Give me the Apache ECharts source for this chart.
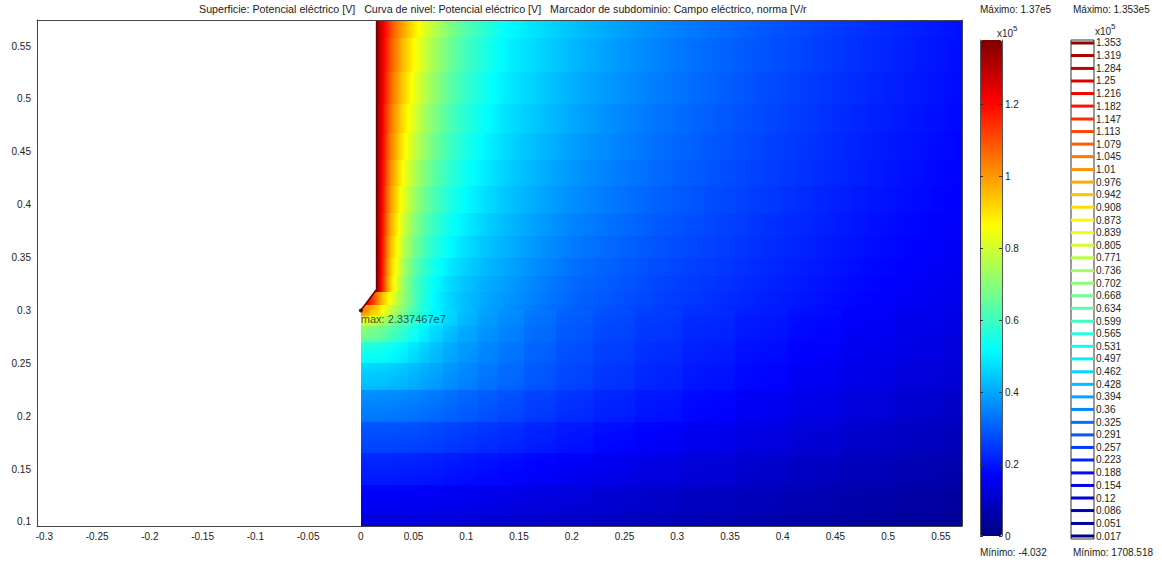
<!DOCTYPE html>
<html>
<head>
<meta charset="utf-8">
<script src="https://cdn.jsdelivr.net/npm/echarts@6/dist/echarts.min.js"></script>
<style>
  html, body { margin: 0; padding: 0; background: #fff; }
  #chart { width: 1162px; height: 565px; }
</style>
</head>
<body>
<div id="chart"></div>
<script>
// Surface: electric potential (x1e5 V), values at grid nodes

const xNodes = [0, 0.015, 0.02, 0.025, 0.03, 0.035, 0.04, 0.05, 0.06, 0.07, 0.085, 0.1,
  0.12, 0.14, 0.17, 0.2, 0.24, 0.28, 0.33, 0.38, 0.43, 0.48, 0.53, 0.57];
const yNodes = [0.095, 0.12, 0.15, 0.18, 0.21, 0.24, 0.26, 0.28, 0.29, 0.3,
  0.31, 0.325, 0.34, 0.36, 0.38, 0.405, 0.43, 0.455, 0.48, 0.51, 0.54, 0.575];

// one row per y node (bottom to top), one value per x node (left to right)
const potential = [
  [0.125, 0.125, 0.125, 0.125, 0.124, 0.124, 0.124, 0.123, 0.122, 0.12, 0.118, 0.115, 0.111, 0.107, 0.101, 0.095, 0.087, 0.079, 0.07, 0.061, 0.053, 0.045, 0.038, 0.032],
  [0.16, 0.16, 0.16, 0.16, 0.159, 0.159, 0.159, 0.158, 0.156, 0.154, 0.151, 0.147, 0.142, 0.137, 0.129, 0.121, 0.111, 0.101, 0.089, 0.078, 0.068, 0.058, 0.05, 0.043],
  [0.215, 0.215, 0.215, 0.214, 0.214, 0.213, 0.213, 0.211, 0.209, 0.206, 0.201, 0.196, 0.189, 0.182, 0.171, 0.16, 0.147, 0.134, 0.119, 0.105, 0.092, 0.08, 0.069, 0.061],
  [0.275, 0.275, 0.275, 0.274, 0.274, 0.273, 0.272, 0.27, 0.266, 0.262, 0.255, 0.248, 0.238, 0.229, 0.214, 0.2, 0.184, 0.168, 0.15, 0.133, 0.117, 0.103, 0.09, 0.08],
  [0.35, 0.35, 0.349, 0.348, 0.347, 0.346, 0.344, 0.339, 0.333, 0.326, 0.314, 0.303, 0.289, 0.276, 0.256, 0.237, 0.218, 0.199, 0.178, 0.159, 0.141, 0.125, 0.11, 0.099],
  [0.45, 0.448, 0.446, 0.444, 0.44, 0.436, 0.431, 0.42, 0.406, 0.393, 0.372, 0.355, 0.334, 0.316, 0.29, 0.267, 0.244, 0.223, 0.2, 0.179, 0.16, 0.142, 0.126, 0.115],
  [0.54, 0.535, 0.53, 0.525, 0.517, 0.508, 0.498, 0.475, 0.45, 0.428, 0.4, 0.378, 0.353, 0.333, 0.304, 0.279, 0.255, 0.234, 0.211, 0.189, 0.17, 0.151, 0.135, 0.124],
  [0.69, 0.67, 0.655, 0.64, 0.62, 0.6, 0.58, 0.54, 0.5, 0.465, 0.43, 0.4, 0.372, 0.35, 0.318, 0.29, 0.266, 0.244, 0.221, 0.199, 0.179, 0.16, 0.143, 0.132],
  [0.82, 0.78, 0.75, 0.72, 0.69, 0.66, 0.635, 0.58, 0.54, 0.495, 0.46, 0.418, 0.384, 0.36, 0.326, 0.297, 0.272, 0.25, 0.227, 0.204, 0.184, 0.165, 0.148, 0.137],
  [1.05, 0.93, 0.87, 0.82, 0.775, 0.735, 0.695, 0.615, 0.555, 0.505, 0.465, 0.428, 0.392, 0.368, 0.333, 0.304, 0.279, 0.256, 0.233, 0.21, 0.19, 0.17, 0.153, 0.142],
  [1.353, 1.05, 0.96, 0.89, 0.83, 0.775, 0.72, 0.63, 0.56, 0.505, 0.46, 0.428, 0.397, 0.376, 0.34, 0.31, 0.286, 0.262, 0.239, 0.216, 0.195, 0.175, 0.158, 0.147],
  [1.353, 1.353, 1.18, 1.015, 0.895, 0.809, 0.731, 0.626, 0.567, 0.517, 0.469, 0.438, 0.406, 0.385, 0.348, 0.317, 0.293, 0.268, 0.245, 0.221, 0.2, 0.179, 0.162, 0.151],
  [1.353, 1.353, 1.187, 1.029, 0.913, 0.829, 0.753, 0.65, 0.59, 0.539, 0.488, 0.455, 0.42, 0.397, 0.36, 0.328, 0.302, 0.277, 0.252, 0.228, 0.206, 0.184, 0.167, 0.155],
  [1.353, 1.353, 1.194, 1.045, 0.934, 0.853, 0.78, 0.679, 0.617, 0.566, 0.512, 0.475, 0.437, 0.411, 0.373, 0.341, 0.313, 0.287, 0.261, 0.235, 0.213, 0.19, 0.172, 0.16],
  [1.353, 1.353, 1.201, 1.06, 0.954, 0.875, 0.805, 0.705, 0.642, 0.59, 0.533, 0.494, 0.453, 0.423, 0.385, 0.352, 0.323, 0.296, 0.269, 0.242, 0.219, 0.196, 0.177, 0.164],
  [1.353, 1.353, 1.21, 1.077, 0.976, 0.9, 0.833, 0.735, 0.671, 0.618, 0.558, 0.515, 0.471, 0.438, 0.4, 0.366, 0.335, 0.306, 0.278, 0.251, 0.226, 0.203, 0.183, 0.169],
  [1.353, 1.353, 1.217, 1.093, 0.997, 0.923, 0.859, 0.763, 0.698, 0.643, 0.58, 0.534, 0.488, 0.451, 0.413, 0.378, 0.345, 0.316, 0.286, 0.258, 0.233, 0.209, 0.188, 0.173],
  [1.353, 1.353, 1.224, 1.107, 1.016, 0.945, 0.883, 0.789, 0.722, 0.667, 0.602, 0.552, 0.503, 0.464, 0.425, 0.39, 0.355, 0.325, 0.294, 0.265, 0.239, 0.214, 0.192, 0.177],
  [1.353, 1.353, 1.231, 1.121, 1.034, 0.965, 0.906, 0.814, 0.745, 0.689, 0.621, 0.569, 0.518, 0.475, 0.436, 0.401, 0.364, 0.333, 0.301, 0.272, 0.245, 0.219, 0.197, 0.181],
  [1.353, 1.353, 1.238, 1.137, 1.055, 0.988, 0.932, 0.841, 0.772, 0.715, 0.644, 0.589, 0.534, 0.489, 0.449, 0.413, 0.375, 0.343, 0.31, 0.279, 0.251, 0.225, 0.202, 0.185],
  [1.353, 1.353, 1.245, 1.152, 1.074, 1.01, 0.956, 0.867, 0.797, 0.739, 0.665, 0.607, 0.55, 0.501, 0.461, 0.425, 0.385, 0.352, 0.317, 0.286, 0.258, 0.231, 0.207, 0.189],
  [1.353, 1.353, 1.252, 1.167, 1.094, 1.033, 0.982, 0.895, 0.823, 0.765, 0.688, 0.627, 0.567, 0.514, 0.474, 0.437, 0.396, 0.361, 0.326, 0.294, 0.264, 0.237, 0.212, 0.193],
];

// electrode outline: the part left of it is outside the domain
const electrodeX = [0.015, 0.015, 0, -0.003, -0.003, 0];
const electrodeY = [0.6, 0.32, 0.3, 0.3, 0.6, 0.6];
const tipY = 0.3;
const maxPoint = [0, 0.3];
const maxText = 'max: 2.337467e7';

const xTicks = [-0.3, -0.25, -0.2, -0.15, -0.1, -0.05, 0, 0.05, 0.1, 0.15, 0.2, 0.25, 0.3, 0.35, 0.4, 0.45, 0.5, 0.55];
const yTicks = [0.1, 0.15, 0.2, 0.25, 0.3, 0.35, 0.4, 0.45, 0.5, 0.55];
const barTicks = [0, 0.2, 0.4, 0.6, 0.8, 1, 1.2];
const contourLevels = [1.353, 1.319, 1.284, 1.25, 1.216, 1.182, 1.147, 1.113, 1.079, 1.045, 1.01,
  0.976, 0.942, 0.908, 0.873, 0.839, 0.805, 0.771, 0.736, 0.702, 0.668, 0.634, 0.599, 0.565,
  0.531, 0.497, 0.462, 0.428, 0.394, 0.36, 0.325, 0.291, 0.257, 0.223, 0.188, 0.154, 0.12,
  0.086, 0.051, 0.017];

const jet = ['#00007f', '#0000ff', '#007fff', '#00ffff', '#7fff7f', '#ffff00', '#ff7f00', '#ff0000', '#7f0000'];
const V_MAX = 1.38;
const FONT = 'Liberation Sans';
const INK = '#222';

// jet colour of a value, same stops as the colour bar
function jetColor(v) {
  const t = Math.min(1, Math.max(0, v / V_MAX)) * (jet.length - 1);
  const k = Math.min(jet.length - 2, Math.floor(t));
  const f = t - k;
  const a = jet[k], b = jet[k + 1];
  const ch = n => {
    const p = parseInt(a.substr(n, 2), 16), q = parseInt(b.substr(n, 2), 16);
    return Math.round(p + (q - p) * f);
  };
  return `rgb(${ch(1)},${ch(3)},${ch(5)})`;
}

function gradientStops(a, b) {
  const stops = [{ offset: 0, color: jetColor(a) }, { offset: 1, color: jetColor(b) }];
  const lo = Math.min(a, b), hi = Math.max(a, b);
  for (let k = 1; k < jet.length - 1; k++) {
    const bv = V_MAX * k / (jet.length - 1);
    if (bv > lo && bv < hi) stops.push({ offset: (bv - a) / (b - a), color: jetColor(bv) });
  }
  return stops.sort((p, q) => p.offset - q.offset);
}

// cells: [x0, x1, y0, y1, vStart, vEnd, vertical]
const bands = [];
yNodes.forEach((y, j) => {
  const y0 = j === 0 ? y : (yNodes[j - 1] + y) / 2;
  const y1 = j === yNodes.length - 1 ? 0.6 : (y + yNodes[j + 1]) / 2;
  for (let i = 0; i < xNodes.length - 1; i++) {
    bands.push([xNodes[i], xNodes[i + 1], y0, y1, potential[j][i], potential[j][i + 1], 0]);
  }
});
const columns = [];
const tipRow = yNodes.indexOf(tipY);
for (let j = 0; j < tipRow; j++) {
  for (let i = 0; i < xNodes.length; i++) {
    const x0 = i === 0 ? xNodes[0] : (xNodes[i - 1] + xNodes[i]) / 2;
    const x1 = i === xNodes.length - 1 ? xNodes[i] : (xNodes[i] + xNodes[i + 1]) / 2;
    columns.push([x0, x1, yNodes[j], yNodes[j + 1], potential[j][i], potential[j + 1][i], 1]);
  }
}

function renderCell(params, api) {
  const a = api.coord([api.value(0), api.value(3)]);
  const b = api.coord([api.value(1), api.value(2)]);
  const x = Math.round(a[0]);
  const y = Math.round(a[1]);
  const vertical = api.value(6) === 1;
  const stops = gradientStops(api.value(4), api.value(5));
  const fill = vertical
    ? new echarts.graphic.LinearGradient(0, 1, 0, 0, stops)
    : new echarts.graphic.LinearGradient(0, 0, 1, 0, stops);
  return {
    type: 'rect',
    shape: { x: x, y: y, width: Math.round(b[0]) - x, height: Math.round(b[1]) - y },
    style: { fill: fill, stroke: null, lineWidth: 0, opacity: vertical ? 0.5 : 1 },
  };
}

function renderElectrode(params, api) {
  const pts = electrodeX.map((x, k) => api.coord([x, electrodeY[k]]));
  return {
    type: 'group',
    children: [
      { type: 'polygon', shape: { points: pts }, style: { fill: '#fff', stroke: null, lineWidth: 0 } },
      { type: 'polyline', shape: { points: pts.slice(0, 3) }, style: { stroke: '#6e0000', lineWidth: 1.6, fill: null } },
    ],
  };
}

function renderLevel(params, api) {
  const v = api.value(0);
  const a = api.coord([0, v]);
  const b = api.coord([1, v]);
  return {
    type: 'line',
    shape: { x1: a[0], y1: a[1], x2: b[0], y2: b[1] },
    style: { stroke: api.visual('color'), lineWidth: 3 },
  };
}

const fmt = v => String(+(+v).toFixed(3));
const tinyText = { fontFamily: FONT, fontSize: 10, color: INK };
const plainText = Object.assign({ fontWeight: 'normal' }, tinyText);
const frameLine = { show: true, onZero: false, lineStyle: { color: '#444', width: 1 } };
const x10Rich = {
  a: { fontFamily: FONT, fontSize: 10, color: INK, fontWeight: 'normal', verticalAlign: 'bottom', lineHeight: 14 },
  s: { fontFamily: FONT, fontSize: 8, color: INK, fontWeight: 'normal', verticalAlign: 'top', lineHeight: 14 },
};

const chart = echarts.init(document.getElementById('chart'), null, { renderer: 'svg' });
chart.setOption({
  animation: false,
  backgroundColor: '#fff',
  title: [
    { text: 'Superficie: Potencial eléctrico [V]   Curva de nivel: Potencial eléctrico [V]   Marcador de subdominio: Campo eléctrico, norma [V/r',
      left: 199, top: 3, padding: 0, textStyle: Object.assign({}, plainText, { fontSize: 10.7 }) },
    { text: 'Máximo: 1.37e5', left: 980, top: 4, padding: 0, textStyle: plainText },
    { text: '{a|x10}{s|5}', left: 997, top: 24, padding: 0, textStyle: { rich: x10Rich } },
    { text: 'Mínimo: -4.032', left: 980, top: 547, padding: 0, textStyle: plainText },
    { text: 'Máximo: 1.353e5', left: 1073, top: 4, padding: 0, textStyle: plainText },
    { text: '{a|x10}{s|5}', left: 1095, top: 22, padding: 0, textStyle: { rich: x10Rich } },
    { text: 'Mínimo: 1708.518', left: 1073, top: 547, padding: 0, textStyle: plainText },
  ],
  grid: [
    { left: 37, top: 20, width: 925, height: 506 },
    { left: 980, top: 40, width: 22, height: 496 },
    { left: 1071, top: 40, width: 23, height: 499, show: true, borderColor: '#333', borderWidth: 1, backgroundColor: '#fff' },
  ],
  xAxis: [
    { gridIndex: 0, type: 'value', min: -0.307, max: 0.57, position: 'bottom', z: 5,
      axisLine: frameLine, axisTick: { show: false }, splitLine: { show: false },
      axisLabel: Object.assign({ customValues: xTicks, formatter: fmt, margin: 5 }, tinyText) },
    { gridIndex: 0, type: 'value', min: -0.307, max: 0.57, position: 'top', z: 5,
      axisLine: frameLine, axisTick: { show: false }, axisLabel: { show: false }, splitLine: { show: false } },
    { gridIndex: 1, type: 'value', min: 0, max: 1, show: false },
    { gridIndex: 2, type: 'value', min: 0, max: 1, show: false },
  ],
  yAxis: [
    { gridIndex: 0, type: 'value', min: 0.0962, max: 0.5746, position: 'left', z: 5,
      axisLine: frameLine, axisTick: { show: false }, splitLine: { show: false },
      axisLabel: Object.assign({ customValues: yTicks, formatter: fmt, margin: 6 }, tinyText) },
    { gridIndex: 0, type: 'value', min: 0.0962, max: 0.5746, position: 'right', z: 5,
      axisLine: frameLine, axisTick: { show: false }, axisLabel: { show: false }, splitLine: { show: false } },
    { gridIndex: 1, type: 'value', min: 0, max: V_MAX, position: 'left', z: 6,
      axisLine: { show: true, onZero: false, lineStyle: { color: '#555', width: 1 } },
      axisTick: { show: true, inside: true, length: 3, customValues: barTicks, lineStyle: { color: '#333' } },
      axisLabel: { show: false }, splitLine: { show: false } },
    { gridIndex: 1, type: 'value', min: 0, max: V_MAX, position: 'right', z: 6,
      axisLine: { show: true, onZero: false, lineStyle: { color: '#555', width: 1 } },
      axisTick: { show: true, inside: true, length: 3, customValues: barTicks, lineStyle: { color: '#333' } },
      axisLabel: Object.assign({ customValues: barTicks, formatter: fmt, margin: 3 }, tinyText),
      splitLine: { show: false } },
    { gridIndex: 2, type: 'value', min: 0.0089, max: 1.3611, position: 'right', z: 6,
      axisLine: { show: false }, axisTick: { show: false }, splitLine: { show: false },
      axisLabel: Object.assign({ customValues: contourLevels, formatter: fmt, margin: 2 }, tinyText) },
  ],
  visualMap: [
    { type: 'continuous', seriesIndex: 0, dimension: 4, min: 0, max: V_MAX,
      left: 980, top: 40, itemWidth: 22, itemHeight: 496, padding: 0,
      calculable: false, hoverLink: false, realtime: false, z: 4,
      inRange: { color: jet }, textStyle: { color: 'transparent' } },
    { type: 'continuous', show: false, seriesIndex: 4, dimension: 0, min: 0, max: V_MAX,
      inRange: { color: jet } },
  ],
  series: [
    { type: 'custom', name: 'Potencial', xAxisIndex: 0, yAxisIndex: 0, clip: true, silent: true,
      renderItem: renderCell, encode: { x: [0, 1], y: [2, 3] }, data: bands, z: 2 },
    { type: 'custom', name: 'Potencial (vertical)', xAxisIndex: 0, yAxisIndex: 0, clip: true, silent: true,
      renderItem: renderCell, encode: { x: [0, 1], y: [2, 3] }, data: columns, z: 2 },
    { type: 'custom', name: 'Electrodo', xAxisIndex: 0, yAxisIndex: 0, clip: true, silent: true,
      renderItem: renderElectrode, encode: { x: 0, y: 1 }, data: [[0.0075, 0.45]], z: 3 },
    { type: 'scatter', name: 'max', xAxisIndex: 0, yAxisIndex: 0, silent: true, z: 4,
      symbol: 'circle', symbolSize: 4, itemStyle: { color: '#000' }, data: [maxPoint],
      label: { show: true, formatter: maxText, position: [2, 5], align: 'left', verticalAlign: 'top',
        fontFamily: FONT, fontSize: 11, color: INK } },
    { type: 'custom', name: 'Niveles', xAxisIndex: 3, yAxisIndex: 4, silent: true, z: 3,
      renderItem: renderLevel, encode: { y: 0 }, data: contourLevels.map(v => [v]) },
  ],
});
</script>
</body>
</html>
